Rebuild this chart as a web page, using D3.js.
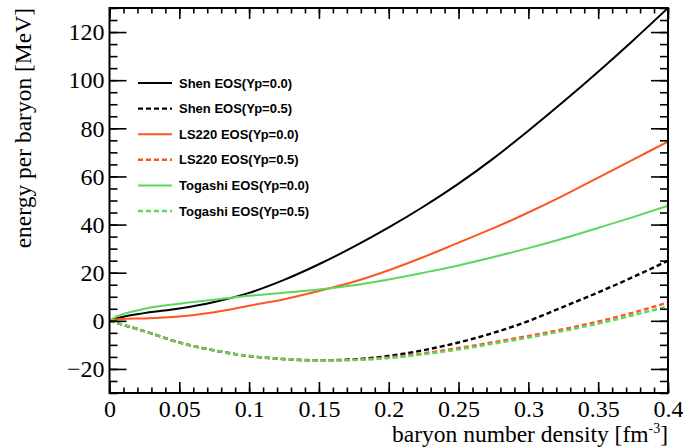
<!DOCTYPE html>
<html>
<head>
<meta charset="utf-8">
<script src="https://cdn.jsdelivr.net/npm/d3@7"></script>
<style>
  body { margin: 0; background: #fff; }
  svg { display: block; }
</style>
</head>
<body>
<script>
// baryon number density [fm^-3]
var density = [0, 0.005, 0.01, 0.025, 0.05, 0.075, 0.1, 0.125, 0.15, 0.175, 0.2,
               0.225, 0.25, 0.275, 0.3, 0.325, 0.35, 0.375, 0.4];

// energy per baryon [MeV]
var shenYp0    = [0, 1.0, 1.7, 3.2, 5.1, 7.8, 11.6, 17, 23.5, 30.8, 38.8, 47.5, 57, 67.5, 79, 91, 103.5, 116.5, 130];
var shenYp5    = [0, -0.8, -1.7, -4.3, -9, -12.3, -14.6, -15.9, -16.4, -16.0, -14.6, -12.2, -9.0, -5.0, -0.1, 5.8, 11.8, 18.2, 25];
var ls220Yp0   = [0, 0.6, 0.8, 1.0, 1.8, 3.6, 6.3, 9, 12.4, 16.2, 21, 26.5, 32.5, 38.5, 45, 52, 59.5, 67, 74.5];
var ls220Yp5   = [0, -0.9, -1.8, -4.4, -9.1, -12.4, -14.7, -16.0, -16.5, -16.2, -15.2, -13.5, -11.3, -8.9, -6.3, -3.5, -0.3, 3.4, 7.6];
var togashiYp0 = [0, 1.8, 2.8, 5.0, 7.1, 8.8, 10.4, 11.7, 13, 14.8, 17.2, 20, 23, 26.5, 30.2, 34.2, 38.6, 43.1, 47.8];
var togashiYp5 = [0, -0.8, -1.7, -4.3, -9, -12.3, -14.6, -15.9, -16.5, -16.3, -15.5, -13.9, -11.9, -9.5, -7.0, -4.2, -1.2, 2.3, 6.0];

var seriesNames = ["Shen EOS(Yp=0.0)", "Shen EOS(Yp=0.5)", "LS220 EOS(Yp=0.0)",
                   "LS220 EOS(Yp=0.5)", "Togashi EOS(Yp=0.0)", "Togashi EOS(Yp=0.5)"];

var xTicks = [0, 0.05, 0.1, 0.15, 0.2, 0.25, 0.3, 0.35, 0.4];
var yTicks = [-20, 0, 20, 40, 60, 80, 100, 120];

var width = 683, height = 448;
var frame = {left: 109.5, right: 668, top: 8, bottom: 393};

var black = "#000000", orange = "#ff5522", green = "#5cd65c";

var series = [
  {name: seriesNames[0], values: shenYp0,    color: black,  dashed: false},
  {name: seriesNames[1], values: shenYp5,    color: black,  dashed: true},
  {name: seriesNames[2], values: ls220Yp0,   color: orange, dashed: false},
  {name: seriesNames[3], values: ls220Yp5,   color: orange, dashed: true},
  {name: seriesNames[4], values: togashiYp0, color: green,  dashed: false},
  {name: seriesNames[5], values: togashiYp5, color: green,  dashed: true}
];

var svg = d3.select("body").append("svg")
    .attr("width", width)
    .attr("height", height);

var xScale = d3.scaleLinear().domain([0, 0.4]).range([frame.left, frame.right]);
var yScale = d3.scaleLinear().domain([-30, 130]).range([frame.bottom, frame.top]);

svg.append("clipPath").attr("id", "plotclip")
  .append("rect")
    .attr("x", frame.left).attr("y", frame.top)
    .attr("width", frame.right - frame.left)
    .attr("height", frame.bottom - frame.top);

// curves
var line = d3.line()
    .x(function(d) { return xScale(d[0]); })
    .y(function(d) { return yScale(d[1]); })
    .curve(d3.curveMonotoneX);

svg.append("g").attr("clip-path", "url(#plotclip)")
  .selectAll("path")
  .data(series)
  .enter()
  .append("path")
    .attr("d", function(s) { return line(density.map(function(n, i) { return [n, s.values[i]]; })); })
    .attr("fill", "none")
    .attr("stroke", function(s) { return s.color; })
    .attr("stroke-width", function(s) { return s.dashed ? 2.4 : 2; })
    .attr("stroke-dasharray", function(s) { return s.dashed ? "5,3" : null; });

// axes, ticks drawn inside the frame like ROOT
var serif = "'Liberation Serif', 'Times New Roman', serif";
var yMinor = d3.range(-30, 131, 5);
var xMinor = d3.range(0, 0.4001, 0.01);

function styleAxis(g) {
  g.select(".domain").remove();
  g.selectAll("line").attr("stroke", "#000").attr("stroke-width", 1.6);
  g.selectAll("text").attr("font-family", serif).attr("font-size", 24).attr("fill", "#000");
}

svg.append("g").attr("transform", "translate(" + frame.left + ",0)")
  .call(d3.axisLeft(yScale).tickValues(yTicks).tickSize(-17).tickPadding(5)
        .tickFormat(function(d) { return d < 0 ? "\u2212" + Math.abs(d) : d; }))
  .call(styleAxis);
svg.append("g").attr("transform", "translate(" + frame.left + ",0)")
  .call(d3.axisLeft(yScale).tickValues(yMinor).tickSize(-8).tickFormat(""))
  .call(styleAxis);
svg.append("g").attr("transform", "translate(" + frame.right + ",0)")
  .call(d3.axisRight(yScale).tickValues(yTicks).tickSize(-17).tickFormat(""))
  .call(styleAxis);
svg.append("g").attr("transform", "translate(" + frame.right + ",0)")
  .call(d3.axisRight(yScale).tickValues(yMinor).tickSize(-8).tickFormat(""))
  .call(styleAxis);

svg.append("g").attr("transform", "translate(0," + frame.bottom + ")")
  .call(d3.axisBottom(xScale).tickValues(xTicks).tickSize(-11).tickPadding(7)
        .tickFormat(function(d) { return d3.format("")(+d.toFixed(2)); }))
  .call(styleAxis);
svg.append("g").attr("transform", "translate(0," + frame.bottom + ")")
  .call(d3.axisBottom(xScale).tickValues(xMinor).tickSize(-5.5).tickFormat(""))
  .call(styleAxis);
svg.append("g").attr("transform", "translate(0," + frame.top + ")")
  .call(d3.axisTop(xScale).tickValues(xTicks).tickSize(-11).tickFormat(""))
  .call(styleAxis);
svg.append("g").attr("transform", "translate(0," + frame.top + ")")
  .call(d3.axisTop(xScale).tickValues(xMinor).tickSize(-5.5).tickFormat(""))
  .call(styleAxis);

// frame
svg.append("rect")
    .attr("x", frame.left).attr("y", frame.top)
    .attr("width", frame.right - frame.left)
    .attr("height", frame.bottom - frame.top)
    .attr("fill", "none")
    .attr("stroke", "#000")
    .attr("stroke-width", 2);

// axis titles
var xTitle = svg.append("text")
    .attr("x", frame.right).attr("y", 442)
    .attr("text-anchor", "end")
    .attr("font-family", serif).attr("font-size", 23.5)
    .text("baryon number density [fm");
xTitle.append("tspan").attr("dy", -9).attr("font-size", 14).text("-3");
xTitle.append("tspan").attr("dy", 9).text("]");

svg.append("text")
    .attr("transform", "translate(31," + frame.top + ") rotate(-90)")
    .attr("text-anchor", "end")
    .attr("font-family", serif).attr("font-size", 23.5)
    .text("energy per baryon [MeV]");

// legend
var legend = svg.append("g").selectAll("g")
  .data(series)
  .enter()
  .append("g")
    .attr("transform", function(d, i) { return "translate(138," + (83 + i * 25.6) + ")"; });

legend.append("line")
    .attr("x1", 0).attr("x2", 34)
    .attr("stroke", function(s) { return s.color; })
    .attr("stroke-width", function(s) { return s.dashed ? 2.4 : 2; })
    .attr("stroke-dasharray", function(s) { return s.dashed ? "5,3" : null; });

legend.append("text")
    .attr("x", 41).attr("y", 4.5)
    .attr("font-family", "'Liberation Sans', Arial, sans-serif")
    .attr("font-weight", "bold")
    .attr("font-size", 13)
    .text(function(s) { return s.name; });
</script>
</body>
</html>
